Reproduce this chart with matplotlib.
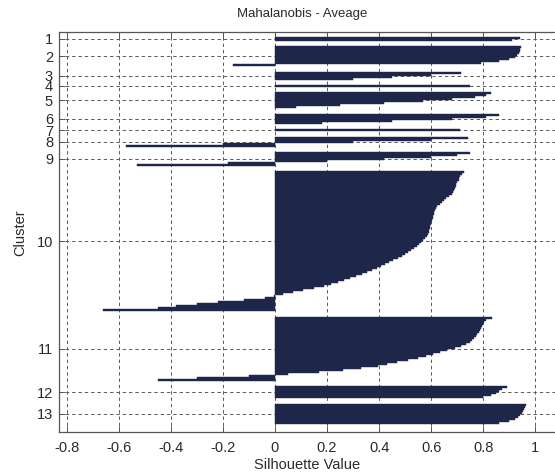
import numpy as np
import matplotlib
matplotlib.use("Agg")
import matplotlib.pyplot as plt

plt.rcParams['font.family'] = ['Liberation Sans', 'DejaVu Sans']

# Silhouette values per cluster (sorted, descending)
sil_c1 = [0.94, 0.91]
sil_c2 = [0.945, 0.942, 0.94, 0.936, 0.93, 0.92, 0.90, 0.86, 0.79, -0.16]
sil_c3 = [0.715, 0.60, 0.45, 0.30]
sil_c4 = [0.75]
sil_c5 = [0.83, 0.81, 0.77, 0.68, 0.57, 0.42, 0.25, 0.08]
sil_c6 = [0.86, 0.81, 0.68, 0.45, 0.18]
sil_c7 = [0.71]
sil_c8 = [0.74, 0.60, 0.30, -0.20, -0.57]
sil_c9 = [0.75, 0.70, 0.60, 0.42, 0.20, -0.18, -0.53]
sil_c10 = [0.725, 0.72, 0.712, 0.708, 0.705, 0.70, 0.697, 0.694, 0.691, 0.687,
           0.682, 0.678, 0.668, 0.658, 0.648, 0.641, 0.633, 0.624, 0.618, 0.615,
           0.612, 0.610, 0.608, 0.606, 0.604, 0.601, 0.599, 0.597, 0.595, 0.593,
           0.590, 0.587, 0.582, 0.576, 0.570, 0.562, 0.553, 0.544, 0.534, 0.523,
           0.511, 0.500, 0.486, 0.472, 0.455, 0.438, 0.423, 0.408, 0.393, 0.374,
           0.354, 0.335, 0.311, 0.288, 0.265, 0.242, 0.216, 0.190, 0.150, 0.108,
           0.068, 0.030, -0.005, -0.04, -0.12, -0.22, -0.30, -0.38, -0.45, -0.66]
sil_c11 = [0.835, 0.81, 0.803, 0.798, 0.795, 0.791, 0.787, 0.783, 0.777, 0.771,
           0.765, 0.758, 0.750, 0.733, 0.715, 0.690, 0.662, 0.634, 0.607, 0.581,
           0.548, 0.511, 0.470, 0.430, 0.396, 0.33, 0.26, 0.17, 0.05,
           -0.10, -0.30, -0.45]
sil_c12 = [0.89, 0.87, 0.86, 0.85, 0.83, 0.80]
sil_c13 = [0.965, 0.96, 0.956, 0.951, 0.947, 0.942, 0.934, 0.92, 0.897, 0.86]

clusters = [sil_c1, sil_c2, sil_c3, sil_c4, sil_c5, sil_c6, sil_c7,
            sil_c8, sil_c9, sil_c10, sil_c11, sil_c12, sil_c13]
cluster_labels = ['1', '2', '3', '4', '5', '6', '7', '8', '9', '10', '11', '12', '13']
x_ticks = [-0.8, -0.6, -0.4, -0.2, 0, 0.2, 0.4, 0.6, 0.8, 1]
x_tick_labels = ['-0.8', '-0.6', '-0.4', '-0.2', '0', '0.2', '0.4', '0.6', '0.8', '1']

W, H = 555, 474
fig = plt.figure(figsize=(W / 100, H / 100), dpi=100)
ax_left, ax_bottom, ax_top = 59.3, 432.3, 31.7
x_lo, x_hi = -0.828, 1.10
px_per_unit = 260.4
ax_right = 275 + x_hi * px_per_unit
ax = fig.add_axes([ax_left / W, 1 - ax_bottom / H,
                   (ax_right - ax_left) / W, (ax_bottom - ax_top) / H])

bar_color = '#1e2749'
gap = 2.7
top_margin = 2.5
bottom_margin = 4.4
y = top_margin
tick_pos = []
for vals in clusters:
    ys = y + 0.5 + np.arange(len(vals))
    ax.barh(ys, vals, height=1.0, color=bar_color, edgecolor=bar_color,
            linewidth=0.3, zorder=3)
    tick_pos.append(y + len(vals) / 2)
    y += len(vals) + gap
y_end = y - gap + bottom_margin

ax.set_ylim(y_end, 0)
ax.set_xlim(x_lo, x_hi)
ax.set_xticks(x_ticks)
ax.set_xticklabels(x_tick_labels)
ax.set_yticks(tick_pos)
ax.set_yticklabels(cluster_labels)

ax.grid(True, linestyle=(0, (3.5, 3)), color='#5a5a5a', linewidth=0.7, zorder=0)
ax.set_axisbelow(True)
ax.tick_params(axis='x', direction='in', length=4, width=0.7, colors='#555555',
               labelcolor='#2a2a2a', labelsize=10.5, pad=6, top=True)
ax.tick_params(axis='y', direction='in', length=4, width=0.7, colors='#555555',
               labelcolor='#2a2a2a', labelsize=10.5, pad=4.5, right=True)
for sp in ax.spines.values():
    sp.set_color('#555555')
    sp.set_linewidth(0.9)

fig.text(302 / W, 1 - 14 / H, 'Mahalanobis - Aveage', ha='center', va='center',
         fontsize=9.5, color='#2a2a2a')
fig.text(307 / W, 1 - 465 / H, 'Silhouette Value', ha='center', va='center',
         fontsize=10.5, color='#2a2a2a')
fig.text(20 / W, 1 - 233 / H, 'Cluster', ha='center', va='center',
         rotation=90, fontsize=10.5, color='#2a2a2a')

fig.savefig('out.png', dpi=100)
